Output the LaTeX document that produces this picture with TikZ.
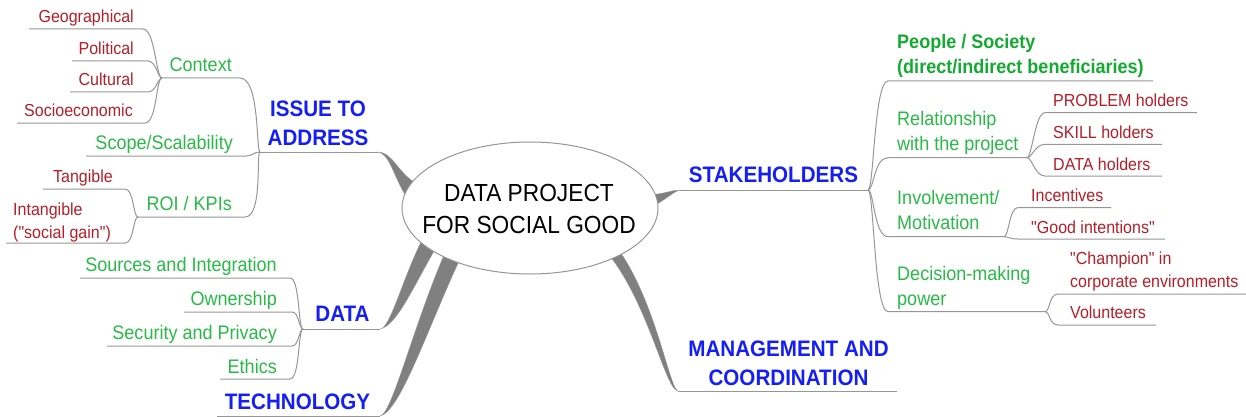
\documentclass[tikz,border=0pt]{standalone}
\usepackage{fontspec}
\setmainfont{Liberation Sans}[FakeStretch=0.92, Ligatures=TeXOff]
\usetikzlibrary{shapes.geometric}
\definecolor{leafred}{RGB}{180,30,40}
\definecolor{midgreen}{RGB}{40,185,70}
\definecolor{peoplegreen}{RGB}{20,170,50}
\definecolor{topblue}{RGB}{20,30,245}
\definecolor{linegray}{RGB}{150,150,150}
\definecolor{branchgray}{RGB}{128,128,128}
\begin{document}
\begin{tikzpicture}[x=1pt,y=-1pt,
 redtxt/.style={inner sep=0pt, text=leafred, font=\fontsize{17.4}{23}\selectfont, align=left},
 greentxt/.style={inner sep=0pt, text=midgreen, font=\fontsize{19.6}{24.5}\selectfont, align=left},
 greenbold/.style={inner sep=0pt, text=peoplegreen, font=\bfseries\fontsize{19.6}{24.5}\selectfont, align=left},
 bluetxt/.style={inner sep=0pt, text=topblue, font=\bfseries\fontsize{22.4}{28.5}\selectfont, align=center},
 hubtxt/.style={inner sep=0pt, text=black, font=\fontsize{24.7}{32}\selectfont, align=center},
 conn/.style={draw=linegray, line width=1pt},
 branch/.style={fill=branchgray, draw=branchgray!80!white, line width=0.3pt}]
\useasboundingbox (0,0) rectangle (1246,417);

% ---------- named ends ----------
\coordinate (issJ) at (260,152);
\coordinate (issE) at (378,152);
\coordinate (datJ) at (303,329);
\coordinate (datE) at (380,329);
\coordinate (techE) at (380,416);
\coordinate (techL) at (217,416);
\coordinate (stkE) at (680,190);
\coordinate (stkJ) at (868,190);
\coordinate (mgmtE) at (678,391);
\coordinate (mgmtR) at (897,391);

% ---------- thick branches ----------
\fill[branch] (issE) .. controls (392,152) and (398,172) .. (414,182) -- (406,196) .. controls (394,178) and (390,154) .. (issE) -- cycle;
\fill[branch] (datE) .. controls (390,329) and (402,280) .. (422,240) -- (437,246) .. controls (414,285) and (397,326) .. (datE) -- cycle;
\fill[branch] (techE) .. controls (392,414) and (412,330) .. (444,255) -- (460,259) .. controls (427,330) and (400,412) .. (techE) -- cycle;
\fill[branch] (stkE) .. controls (672,190) and (668,193) .. (650,195) -- (650,207) .. controls (664,202) and (672,192) .. (stkE) -- cycle;
\fill[branch] (mgmtE) .. controls (665,390) and (648,300) .. (605,250) -- (616,246) .. controls (656,300) and (669,388) .. (mgmtE) -- cycle;

% ---------- hub ----------
\node[draw=linegray, fill=white, ellipse, line width=1pt, minimum width=256pt, minimum height=132pt, inner sep=0pt] (hub) at (530,208) {};
\node[hubtxt, anchor=base] (hubtext) at (529,233) {DATA PROJECT\\FOR SOCIAL GOOD};

% ---------- ISSUE TO ADDRESS ----------
\node[bluetxt, anchor=base] (issue) at (318,145.2) {ISSUE TO\\ADDRESS};
\draw[conn] (issJ) -- (issE);

\coordinate (ctxJ) at (162,78);
\coordinate (ctxE) at (240,78);
\node[greentxt, anchor=base east] (context) at (232,71.7) {Context};
\draw[conn] (issJ) .. controls +(-4,0) and +(20,0) .. (ctxE) -- (ctxJ);

\coordinate (geoE) at (143,29); \coordinate (geoL) at (29,29);
\node[redtxt, anchor=base east] (geo) at (134,22.7) {Geographical};
\draw[conn] (ctxJ) .. controls +(-6,0) and +(12,0) .. (geoE) -- (geoL);
\coordinate (polE) at (148,61); \coordinate (polL) at (72,61);
\node[redtxt, anchor=base east] (pol) at (134,54.3) {Political};
\draw[conn] (ctxJ) .. controls +(-4,0) and +(8,0) .. (polE) -- (polL);
\coordinate (culE) at (148,92); \coordinate (culL) at (70,92);
\node[redtxt, anchor=base east] (cul) at (134,86) {Cultural};
\draw[conn] (ctxJ) .. controls +(-4,0) and +(8,0) .. (culE) -- (culL);
\coordinate (socE) at (145,123); \coordinate (socL) at (17,123);
\node[redtxt, anchor=base east] (soc) at (133,117) {Socioeconomic};
\draw[conn] (ctxJ) .. controls +(-6,0) and +(12,0) .. (socE) -- (socL);

\coordinate (scoE) at (246,156); \coordinate (scoL) at (86,156);
\node[greentxt, anchor=base east] (scope) at (233,149) {Scope/Scalability};
\draw[conn] (issJ) .. controls +(-6,0) and +(6,0) .. (scoE) -- (scoL);

\coordinate (roiJ) at (138,217); \coordinate (roiE) at (245,217);
\node[greentxt, anchor=base east] (roi) at (232,210.5) {ROI / KPIs};
\draw[conn] (issJ) .. controls +(-4,0) and +(18,0) .. (roiE) -- (roiJ);

\coordinate (tanE) at (125,189); \coordinate (tanL) at (43,189);
\node[redtxt, anchor=base east] (tan) at (113,182.7) {Tangible};
\draw[conn] (roiJ) .. controls +(-5,0) and +(9,0) .. (tanE) -- (tanL);
\coordinate (intE) at (125,243); \coordinate (intL) at (6,243);
\node[redtxt, anchor=base west] (intang) at (13,238) {Intangible\\("social gain")};
\draw[conn] (roiJ) .. controls +(-5,0) and +(9,0) .. (intE) -- (intL);

% ---------- DATA ----------
\node[bluetxt, anchor=base] (data) at (342.5,321.7) {DATA};
\draw[conn] (datJ) -- (datE);
\coordinate (srcE) at (290,278); \coordinate (srcL) at (80,278);
\node[greentxt, anchor=base east] (src) at (277,271) {Sources and Integration};
\draw[conn] (datJ) .. controls +(-5,0) and +(10,0) .. (srcE) -- (srcL);
\coordinate (ownE) at (292,312); \coordinate (ownL) at (184,312);
\node[greentxt, anchor=base east] (own) at (277,305) {Ownership};
\draw[conn] (datJ) .. controls +(-4,0) and +(7,0) .. (ownE) -- (ownL);
\coordinate (secE) at (292,346); \coordinate (secL) at (107,346);
\node[greentxt, anchor=base east] (sec) at (277,339) {Security and Privacy};
\draw[conn] (datJ) .. controls +(-4,0) and +(7,0) .. (secE) -- (secL);
\coordinate (ethE) at (290,379); \coordinate (ethL) at (220,379);
\node[greentxt, anchor=base east] (eth) at (277,373) {Ethics};
\draw[conn] (datJ) .. controls +(-5,0) and +(10,0) .. (ethE) -- (ethL);

% ---------- TECHNOLOGY ----------
\node[bluetxt, anchor=base] (tech) at (297.5,409) {TECHNOLOGY};
\draw[conn] (techL) -- (techE);

% ---------- STAKEHOLDERS ----------
\node[bluetxt, anchor=base] (stake) at (773.5,182.7) {STAKEHOLDERS};
\draw[conn] (stkE) -- (stkJ);

\coordinate (pplS) at (888,81); \coordinate (pplR) at (1153,81);
\node[greenbold, anchor=base west] (people) at (897,73.5) {People / Society\\(direct/indirect beneficiaries)};
\draw[conn] (stkJ) .. controls +(6,0) and +(-14,0) .. (pplS) -- (pplR);

\coordinate (relS) at (888,157.7); \coordinate (relJ) at (1027,157.7);
\node[greentxt, anchor=base west] (rel) at (897,150) {Relationship\\with the project};
\draw[conn] (stkJ) .. controls +(6,0) and +(-14,0) .. (relS) -- (relJ);
\coordinate (probS) at (1045,112.7); \coordinate (probR) at (1197,112.7);
\node[redtxt, anchor=base west] (prob) at (1053,106.7) {PROBLEM holders};
\draw[conn] (relJ) .. controls +(5,0) and +(-10,0) .. (probS) -- (probR);
\coordinate (sklS) at (1045,144.3); \coordinate (sklR) at (1162,144.3);
\node[redtxt, anchor=base west] (skill) at (1053,138.3) {SKILL holders};
\draw[conn] (relJ) .. controls +(5,0) and +(-10,0) .. (sklS) -- (sklR);
\coordinate (dhS) at (1045,176); \coordinate (dhR) at (1162,176);
\node[redtxt, anchor=base west] (dholders) at (1053,170) {DATA holders};
\draw[conn] (relJ) .. controls +(5,0) and +(-10,0) .. (dhS) -- (dhR);

\coordinate (invS) at (888,236.7); \coordinate (invJ) at (1004,236.7);
\node[greentxt, anchor=base west] (inv) at (897,229) {Involvement/\\Motivation};
\draw[conn] (stkJ) .. controls +(6,0) and +(-14,0) .. (invS) -- (invJ);
\coordinate (incS) at (1018,207.5); \coordinate (incR) at (1111,207.5);
\node[redtxt, anchor=base west] (incent) at (1031,201.7) {Incentives};
\draw[conn] (invJ) .. controls +(5,0) and +(-9,0) .. (incS) -- (incR);
\coordinate (goodS) at (1018,239); \coordinate (goodR) at (1165,239);
\node[redtxt, anchor=base west] (good) at (1031,233.3) {"Good intentions"};
\draw[conn] (invJ) .. controls +(5,0) and +(-9,0) .. (goodS) -- (goodR);

\coordinate (decS) at (888,311.7); \coordinate (decJ) at (1045,311.7);
\node[greentxt, anchor=base west] (dec) at (897,305) {Decision-making\\power};
\draw[conn] (stkJ) .. controls +(6,0) and +(-14,0) .. (decS) -- (decJ);
\coordinate (chS) at (1058,294); \coordinate (chR) at (1246,294);
\node[redtxt, anchor=base west] (champ) at (1070,287.5) {"Champion" in\\corporate environments};
\draw[conn] (decJ) .. controls +(5,0) and +(-9,0) .. (chS) -- (chR);
\coordinate (volS) at (1058,325); \coordinate (volR) at (1156,325);
\node[redtxt, anchor=base west] (vol) at (1070,318.3) {Volunteers};
\draw[conn] (decJ) .. controls +(5,0) and +(-9,0) .. (volS) -- (volR);

% ---------- MANAGEMENT ----------
\node[bluetxt, anchor=base] (mgmt) at (788.5,385) {MANAGEMENT AND\\COORDINATION};
\draw[conn] (mgmtE) -- (mgmtR);
\end{tikzpicture}
\end{document}
